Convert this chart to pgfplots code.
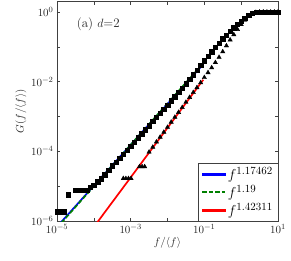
\documentclass[border=0pt]{standalone}
\usepackage{pgfplots}
\pgfplotsset{compat=1.18}
\begin{document}
\begin{tikzpicture}[font=\fontsize{11}{13}\selectfont]
\begin{loglogaxis}[
  scale only axis, width=221pt, height=219.5pt,
  xmin=1e-5, xmax=10, ymin=1e-6, ymax=2,
  xtick={1e-5,1e-4,1e-3,1e-2,1e-1,1,10},
  xticklabels={$10^{-5}$,,$10^{-3}$,,$10^{-1}$,,$10^{1}$},
  ytick={1e-6,1e-5,1e-4,1e-3,1e-2,1e-1,1},
  yticklabels={$10^{-6}$,,$10^{-4}$,,$10^{-2}$,,$10^{0}$},
  xminorticks=false, yminorticks=false,
  tick align=inside, major tick length=3.5pt,
  axis line style={black!75, line width=0.6pt},
  every tick/.style={black!75, line width=0.6pt},
  tick label style={black!85},
  xlabel={$f/\langle f\rangle$}, ylabel={$G(f/\langle f\rangle)$},
  xlabel style={at={(axis description cs:0.5,-0.10)}, anchor=center, black!85},
  ylabel style={at={(axis description cs:-0.163,0.5)}, anchor=center, black!85},
  legend style={at={(rel axis cs:1,0)}, anchor=south east, draw=black!75,
    fill=white, font=\fontsize{15}{16}\selectfont},
  legend cell align=left,
]
\coordinate (sw) at (rel axis cs:0,0);
\coordinate (ne) at (rel axis cs:1,1);
\addlegendimage{legend image code/.code={\fill[blue] (0cm,-0.85pt) rectangle (0.8cm,0.85pt);}}
\addlegendentry{$f^{1.17462}$}
\addlegendimage{legend image code/.code={\draw[green!50!black, line width=1.7pt, dash pattern=on 4.5pt off 2pt] (0cm,0cm) -- (0.8cm,0cm);}}
\addlegendentry{$f^{1.19}$}
\addlegendimage{legend image code/.code={\fill[red] (0cm,-0.85pt) rectangle (0.8cm,0.85pt);}}
\addlegendentry{$f^{1.42311}$}
% squares
\addplot[only marks, mark=square*, mark size=2.2pt, black, forget plot] coordinates {
(1.047e-5,1.862e-6) (1.259e-5,1.862e-6) (1.514e-5,1.862e-6)
(2.042e-5,5.623e-6)
(3.162e-5,7.762e-6) (3.802e-5,7.762e-6) (4.571e-5,7.762e-6) (5.495e-5,7.762e-6) (6.607e-5,7.762e-6)
(7.943e-5,9.333e-6) (1e-4,1.047e-5) (1.259e-4,1.349e-5) (1.585e-4,1.622e-5)
(1.995e-4,2.138e-5) (2.512e-4,2.818e-5) (3.162e-4,3.890e-5) (3.981e-4,4.898e-5)
(5.012e-4,6.310e-5) (6.310e-4,8.318e-5) (7.943e-4,1.096e-4) (1e-3,1.413e-4)
(1.259e-3,1.862e-4) (1.585e-3,2.455e-4) (1.995e-3,3.236e-4) (2.512e-3,4.169e-4)
(3.162e-3,5.495e-4) (3.981e-3,7.244e-4) (5.012e-3,9.550e-4) (6.310e-3,1.230e-3)
(7.943e-3,1.622e-3) (1e-2,2.138e-3) (1.259e-2,2.818e-3) (1.585e-2,3.715e-3)
(1.995e-2,4.898e-3) (2.512e-2,6.607e-3) (3.162e-2,8.710e-3) (3.981e-2,1.175e-2)
(5.012e-2,1.585e-2) (6.310e-2,2.138e-2) (7.943e-2,2.951e-2) (0.1,3.981e-2)
(0.1259,5.370e-2) (0.1585,7.244e-2) (0.1995,9.772e-2) (0.2512,0.1288)
(0.3162,0.1698) (0.3981,0.2188) (0.5012,0.2818) (0.6310,0.3548) (0.7943,0.4467)
(1.0,0.5495) (1.259,0.6761) (1.585,0.8128) (1.995,0.9120) (2.512,0.9772)
(3.162,1.0) (3.981,1.0) (5.012,1.0) (6.310,1.0) (7.943,1.0) (10,1.0)
};
% triangles
\addplot[only marks, mark=triangle*, mark size=2.5pt, black, forget plot] coordinates {
(6.310e-4,1.660e-5) (7.413e-4,1.660e-5) (8.710e-4,1.660e-5) (1.023e-3,1.660e-5)
(1.738e-3,3.631e-5) (2.042e-3,3.631e-5) (2.399e-3,3.631e-5)
(3.162e-3,9.550e-5) (3.981e-3,1.318e-4) (5.012e-3,1.862e-4) (6.310e-3,2.570e-4)
(7.943e-3,3.548e-4) (1e-2,4.898e-4) (1.259e-2,6.918e-4) (1.585e-2,9.550e-4)
(1.995e-2,1.318e-3) (2.512e-2,1.820e-3) (3.162e-2,2.570e-3) (3.981e-2,3.548e-3)
(5.012e-2,4.898e-3) (6.310e-2,6.761e-3) (7.943e-2,9.333e-3) (0.1,1.318e-2)
(0.1259,1.820e-2) (0.1585,2.512e-2) (0.1995,3.548e-2) (0.2512,5.012e-2)
(0.3162,7.244e-2) (0.3981,0.1072) (0.5012,0.1585) (0.6310,0.2239) (0.7943,0.3162)
(1.0,0.4365) (1.259,0.5888) (1.585,0.7586) (1.995,0.8913) (2.512,0.9772)
(3.162,1.0) (3.981,1.0) (5.012,1.0) (6.310,1.0) (7.943,1.0) (10,1.0)
};
\addplot[color=blue, line width=1.7pt, forget plot] coordinates {(1e-5,6.87e-7) (0.09333,3.162e-2)};
\addplot[color=green!50!black, line width=1.7pt, dash pattern=on 4.5pt off 2pt, forget plot] coordinates {(1e-5,6.40e-7) (0.09333,3.388e-2)};
\addplot[color=red, line width=1.7pt, forget plot] coordinates {(1e-4,6.73e-7) (0.09333,1.132e-2)};
\node[anchor=north west, inner sep=0pt, font=\fontsize{13}{15}\selectfont, black!85] at (rel axis cs:0.089,0.925) {(a) $d$=2};
\end{loglogaxis}
\pgfresetboundingbox
\path[use as bounding box] ([xshift=-57pt,yshift=-39pt]sw) rectangle ([xshift=13pt,yshift=1.5pt]ne);
\end{tikzpicture}
\end{document}
